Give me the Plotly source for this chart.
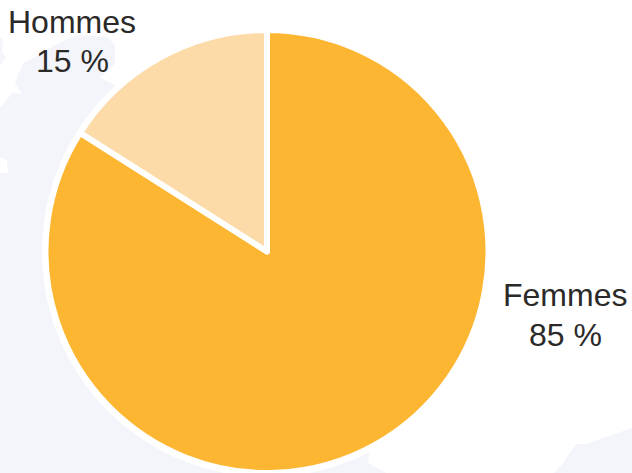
import plotly.graph_objects as go

categories = ["Femmes", "Hommes"]
values = [84, 16]
colors = ["#FDB632", "#FDDBA8"]
label_lines = ["Femmes", "85 %", "Hommes", "15 %"]
label_x = [565, 565, 72, 72]
label_y = [295, 335, 22, 61]

W, H = 632, 473
BG = "#F3F5FA"

fig = go.Figure(go.Pie(
    labels=categories, values=values, sort=False, direction="clockwise", rotation=0,
    marker=dict(colors=colors, line=dict(color="white", width=6)),
    textinfo="none", hoverinfo="label", showlegend=False,
    domain=dict(x=[45.5/W, 488.5/W], y=[0, 1-30/H]),
))

def P(pts):
    return "M" + " L".join(f"{x/W:.4f},{1-y/H:.4f}" for x, y in pts) + " Z"

land = [(0,108),(13,92),(22,95),(15,83),(23,63),(33,58),(55,45),(77,35),(107,37),(115,45),(115,63),(100,78),(115,85),
        (200,120),(300,300),(369,454),(368,463),(386,473),(0,473),(0,173),(8,173),(7,160),(0,157)]
land2 = [(554,473),(563,463),(576,444),(586,444),(632,428),(632,473)]
island = [(0,38),(3,40),(2,52),(6,58),(0,66)]
shapes = [dict(type="path", layer="below", xref="paper", yref="paper", line=dict(width=0),
               fillcolor=BG, path=P(p)) for p in (land, land2, island)]
# white halo round the pie
shapes.append(dict(type="circle", layer="below", xref="paper", yref="paper", line=dict(width=0),
                   fillcolor="white", x0=42/W, x1=492/W, y0=1-477/H, y1=1-27/H))

annotations = [dict(x=x/W, y=1-y/H, xref="paper", yref="paper", text=t, showarrow=False,
                    font=dict(family="Liberation Sans", size=32, color="#2B2A29"), align="center",
                    xanchor="center", yanchor="middle")
               for t, x, y in zip(label_lines, label_x, label_y)]

fig.update_layout(width=W, height=H, margin=dict(l=0, r=0, t=0, b=0), paper_bgcolor="white",
                  plot_bgcolor="white", shapes=shapes, annotations=annotations)
fig.write_html("out.html", post_script="document.body.style.margin='0';",
               config={"displayModeBar": False})
